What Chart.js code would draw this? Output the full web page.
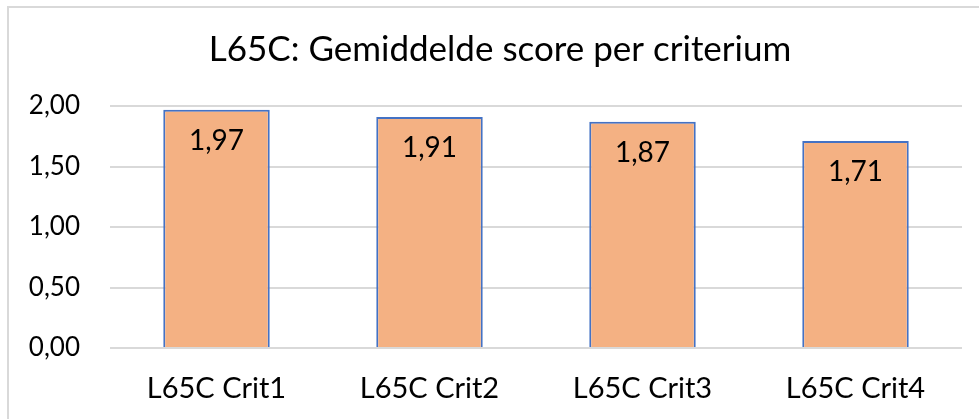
<!DOCTYPE html>
<html>
<head>
<meta charset="utf-8">
<script src="https://cdn.jsdelivr.net/npm/chart.js@4"></script>
<style>
  html, body { margin: 0; padding: 0; background: #fff; overflow: hidden; }
  #wrap { position: relative; width: 979px; height: 419px; }
  #frame { position: absolute; left: 7px; top: 6px; right: 0; bottom: 0; border-left: 2px solid #d9d9d9; border-top: 2px solid #d9d9d9; pointer-events: none; }
</style>
</head>
<body>
<div id="wrap">
  <canvas id="chart" width="979" height="419"></canvas>
  <div id="frame"></div>
</div>
<script>
const categories = ['L65C Crit1', 'L65C Crit2', 'L65C Crit3', 'L65C Crit4']
const scores = [1.97, 1.91, 1.87, 1.71]
const yTicks = [0, 0.5, 1, 1.5, 2]
const titleText = 'L65C: Gemiddelde score per criterium'

const fontFamily = 'Lato, "Open Sans", sans-serif'
const fmt = v => v.toFixed(2).replace('.', ',')

// values inside the top of each bar + the title (drawn off-centre like the original)
const extras = {
  id: 'extras',
  afterDatasetsDraw(chart) {
    const ctx = chart.ctx
    const meta = chart.getDatasetMeta(0)
    ctx.save()
    ctx.font = '28px ' + fontFamily
    ctx.fillStyle = '#000'
    ctx.textAlign = 'center'
    ctx.textBaseline = 'middle'
    meta.data.forEach((bar, i) => {
      ctx.fillText(fmt(scores[i]), bar.x, bar.y + 31)
    })
    ctx.font = '35px ' + fontFamily
    ctx.textBaseline = 'alphabetic'
    ctx.fillText(titleText, 500, 61)
    ctx.restore()
  }
}

new Chart(document.getElementById('chart'), {
  type: 'bar',
  data: {
    labels: categories,
    datasets: [{
      label: 'Gemiddelde score',
      data: scores,
      backgroundColor: '#f4b183',
      borderColor: '#4472c4',
      borderWidth: 2,
      barPercentage: 0.5,
      categoryPercentage: 1
    }]
  },
  options: {
    responsive: false,
    animation: false,
    layout: { padding: { left: 0, right: 17, top: 106, bottom: 15 } },
    plugins: {
      legend: { display: false },
      tooltip: { enabled: false },
      title: { display: false }
    },
    scales: {
      x: {
        afterFit: s => { s.height = 56 },
        grid: { display: false, drawTicks: false },
        border: { display: false },
        ticks: { color: '#000', font: { family: fontFamily, size: 29 }, padding: 23, maxRotation: 0 }
      },
      y: {
        min: 0,
        max: 2,
        afterBuildTicks: s => { s.ticks = yTicks.map(v => ({ value: v })) },
        afterFit: s => { s.width = 110 },
        grid: { color: '#d9d9d9', lineWidth: 2, drawTicks: false },
        border: { display: false },
        ticks: { color: '#000', font: { family: fontFamily, size: 26 }, padding: 30, callback: v => fmt(v) }
      }
    }
  },
  plugins: [extras]
})
</script>
</body>
</html>
